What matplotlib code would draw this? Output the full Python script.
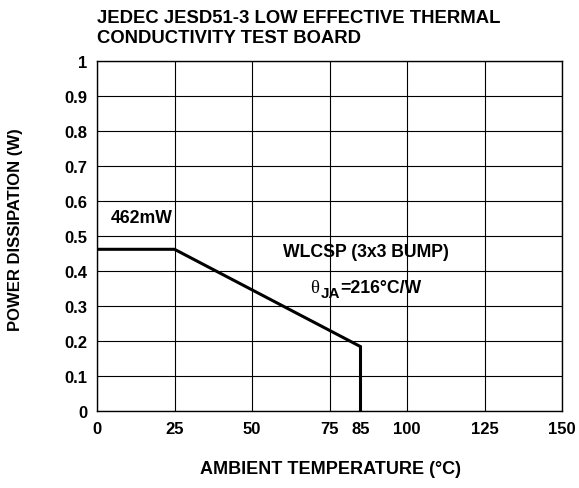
import matplotlib
matplotlib.use("Agg")
import matplotlib.pyplot as plt
import numpy as np

plt.rcParams['font.family'] = ['Liberation Sans', 'DejaVu Sans']

# derating curve: 462mW up to 25C, then 1/216 W per C down to 85C
temp_c = [0, 25, 85, 85]
power_w = [0.462, 0.462, 0.184, 0.0]

x_ticks = [0, 25, 50, 75, 85, 100, 125, 150]
x_grid = [0, 25, 50, 75, 100, 125, 150]
y_ticks = [0, 0.1, 0.2, 0.3, 0.4, 0.5, 0.6, 0.7, 0.8, 0.9, 1]
y_labels = ['0', '0.1', '0.2', '0.3', '0.4', '0.5', '0.6', '0.7', '0.8', '0.9', '1']

fig = plt.figure(figsize=(5.79, 4.89), dpi=100)
ax = fig.add_axes([97 / 579, 1 - 412 / 489, 465 / 579, 350 / 489])

for gx in x_grid:
    ax.axvline(gx, color='black', lw=0.8, zorder=1)
for gy in y_ticks:
    ax.axhline(gy, color='black', lw=0.8, zorder=1)

ax.plot(temp_c, power_w, color='black', lw=2.2, solid_joinstyle='miter', zorder=3)

ax.set_xlim(0, 150)
ax.set_ylim(0, 1)
ax.set_xticks(x_ticks)
ax.set_xticklabels([str(t) for t in x_ticks], fontsize=12, fontweight='bold')
ax.set_yticks(y_ticks)
ax.set_yticklabels(y_labels, fontsize=12, fontweight='bold')
ax.tick_params(axis='x', length=0, pad=7)
ax.tick_params(axis='y', length=0, pad=7)
for s in ax.spines.values():
    s.set_linewidth(1.0)
    s.set_color('black')

fig.text(330 / 579, 1 - 470 / 489, 'AMBIENT TEMPERATURE (°C)', fontsize=13,
         fontweight='bold', ha='center', va='center')
fig.text(16 / 579, 1 - 230 / 489, 'POWER DISSIPATION (W)', fontsize=12,
         fontweight='bold', ha='center', va='center', rotation=90)

fig.text(97 / 579, 1 - 10 / 489, 'JEDEC JESD51-3 LOW EFFECTIVE THERMAL\nCONDUCTIVITY TEST BOARD',
         fontsize=13.3, fontweight='bold', va='top', ha='left', linespacing=1.25)

ax.text(4.5, 0.554, '462mW', fontsize=12.7, fontweight='bold', va='center')
ax.text(60, 0.457, 'WLCSP (3x3 BUMP)', fontsize=12.7, fontweight='bold', va='center')

# theta-JA label: serif theta, lowered bold subscript, then the value
ax.text(68.8, 0.353, 'θ', family='Liberation Serif', fontsize=13.5, va='center')
ax.annotate('JA', xy=(68.8, 0.353), xytext=(10, -6), textcoords='offset pixels',
            fontsize=11, fontweight='bold', va='center')
ax.annotate('=216°C/W', xy=(68.8, 0.353), xytext=(30, 0), textcoords='offset pixels',
            fontsize=12.7, fontweight='bold', va='center')

fig.savefig('out.png', dpi=100)
